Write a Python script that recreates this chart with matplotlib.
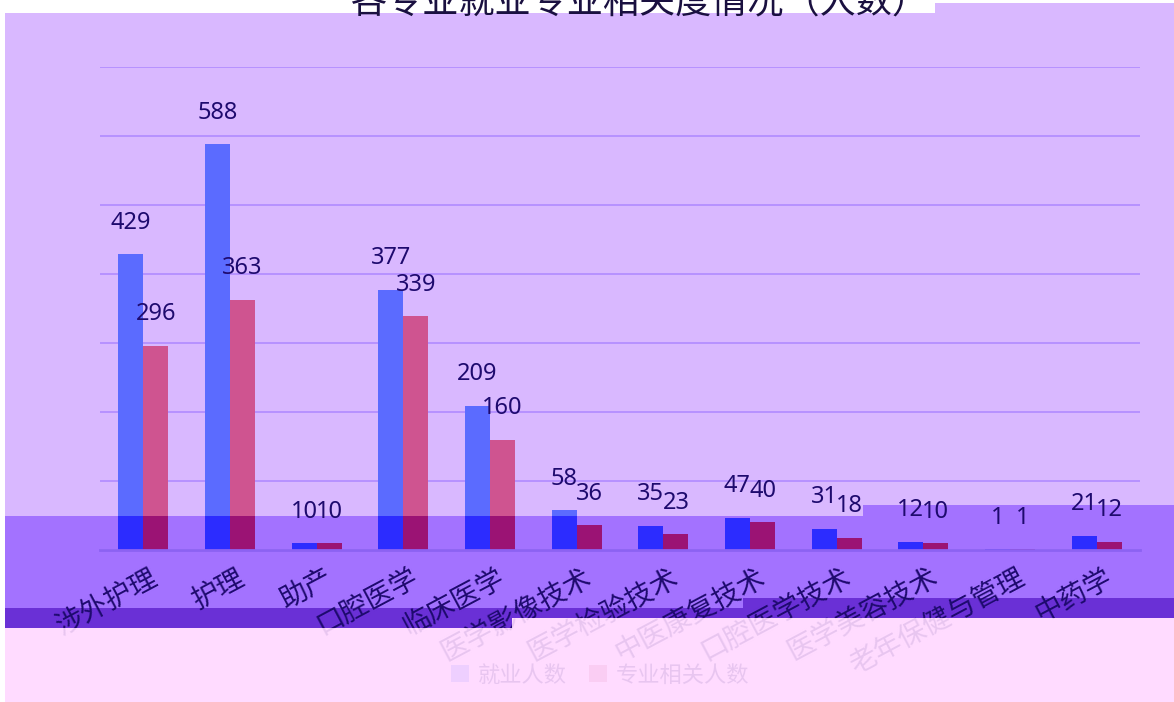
import matplotlib
matplotlib.use('Agg')
import matplotlib.pyplot as plt
import matplotlib.transforms as mtrans
from matplotlib.patches import Polygon
import numpy as np

plt.rcParams['font.family'] = ['Noto Sans CJK SC', 'DejaVu Sans']

# data
majors = ['涉外护理', '护理', '助产', '口腔医学', '临床医学', '医学影像技术',
          '医学检验技术', '中医康复技术', '口腔医学技术', '医学美容技术',
          '老年保健与管理', '中药学']
employed = [429, 588, 10, 377, 209, 58, 35, 47, 31, 12, 1, 21]
related = [296, 363, 10, 339, 160, 36, 23, 40, 18, 10, 1, 12]
series_names = ['就业人数', '专业相关人数']
title = '各专业就业专业相关度情况（人数）'

W, H = 1174, 702
fig = plt.figure(figsize=(W / 100, H / 100), dpi=100)
fig.patch.set_facecolor('white')

def px(pts):
    return [(x / W, 1 - y / H) for x, y in pts]

def band(pts, color, z=-1, alpha=1.0, add=True):
    p = Polygon(px(pts), closed=True, transform=fig.transFigure,
                facecolor=color, edgecolor='none', zorder=z, alpha=alpha)
    if add:
        fig.add_artist(p)
    return p

# colour bands behind the chart
top_pts = [(5, 13), (935, 13), (935, 3), (1174, 3), (1174, 505), (863, 505), (863, 516), (5, 516)]
mid_pts = [(5, 516), (863, 516), (863, 505), (1174, 505), (1174, 598), (743, 598), (743, 608), (5, 608)]
dark_pts = [(5, 608), (743, 608), (743, 598), (1174, 598), (1174, 618), (512, 618), (512, 628), (5, 628)]
pale_pts = [(5, 628), (512, 628), (512, 618), (1174, 618), (1174, 702), (5, 702)]
band(top_pts, '#d9b8ff')
band(mid_pts, '#a372ff')
band(dark_pts, '#6a30d6')
band(pale_pts, '#ffdbff')

ax = fig.add_axes([100 / W, 1 - 550 / H, 1040 / W, (550 - 67) / H])
ax.patch.set_visible(False)

x = np.arange(len(majors))
w = 0.29
b1 = ax.bar(x - w / 2, employed, w, color='#5b6bff', zorder=2)
b2 = ax.bar(x + w / 2, related, w, color='#cf5490', zorder=2)
# same bars, darker where the middle band is
d1 = ax.bar(x - w / 2, employed, w, color='#2c2cff', zorder=2.1)
d2 = ax.bar(x + w / 2, related, w, color='#9b1374', zorder=2.1)
mid_clip = band(mid_pts, 'none', add=False)
for r in list(d1) + list(d2):
    r.set_clip_path(mid_clip)

lab_col = '#1e0a6e'
ax.bar_label(b1, padding=14, fontsize=17, color=lab_col, family='Noto Sans')
ax.bar_label(b2, padding=14, fontsize=17, color=lab_col, family='Noto Sans')

ax.set_xlim(-0.5, len(majors) - 0.5)
ax.set_ylim(0, 700)
ax.set_yticks(np.arange(0, 701, 100))
ax.yaxis.grid(True, color='#b48eff', lw=1.3)
ax.set_axisbelow(True)
ax.tick_params(axis='y', length=0, labelleft=False)
ax.tick_params(axis='x', length=0)
for s in ['left', 'right', 'top']:
    ax.spines[s].set_visible(False)
ax.spines['bottom'].set_color('#8c62f2')
ax.spines['bottom'].set_linewidth(2)

ax.set_xticks(x, majors, rotation=28, ha='right', va='top',
              rotation_mode='anchor', fontsize=20, color=lab_col)
shift = mtrans.ScaledTranslation(6 / 100, -8 / 100, fig.dpi_scale_trans)
for lab in ax.get_xticklabels():
    lab.set_transform(lab.get_transform() + shift)

fig.text(640 / W, 1 - 13 / H, title, ha='center', va='baseline',
         fontsize=26, color='#1a1040', zorder=10)

leg = fig.legend([b1, b2], series_names, loc='center',
                 bbox_to_anchor=(600 / W, 1 - 675 / H), ncol=2, frameon=False,
                 fontsize=16, handlelength=0.8, handleheight=0.8,
                 columnspacing=1.0, handletextpad=0.4, labelcolor=lab_col)
leg.set_zorder(5)

# washed-out bottom strip over labels and legend
band(pale_pts, '#ffdbff', z=20, alpha=0.9)

fig.savefig('out.png', dpi=100)
